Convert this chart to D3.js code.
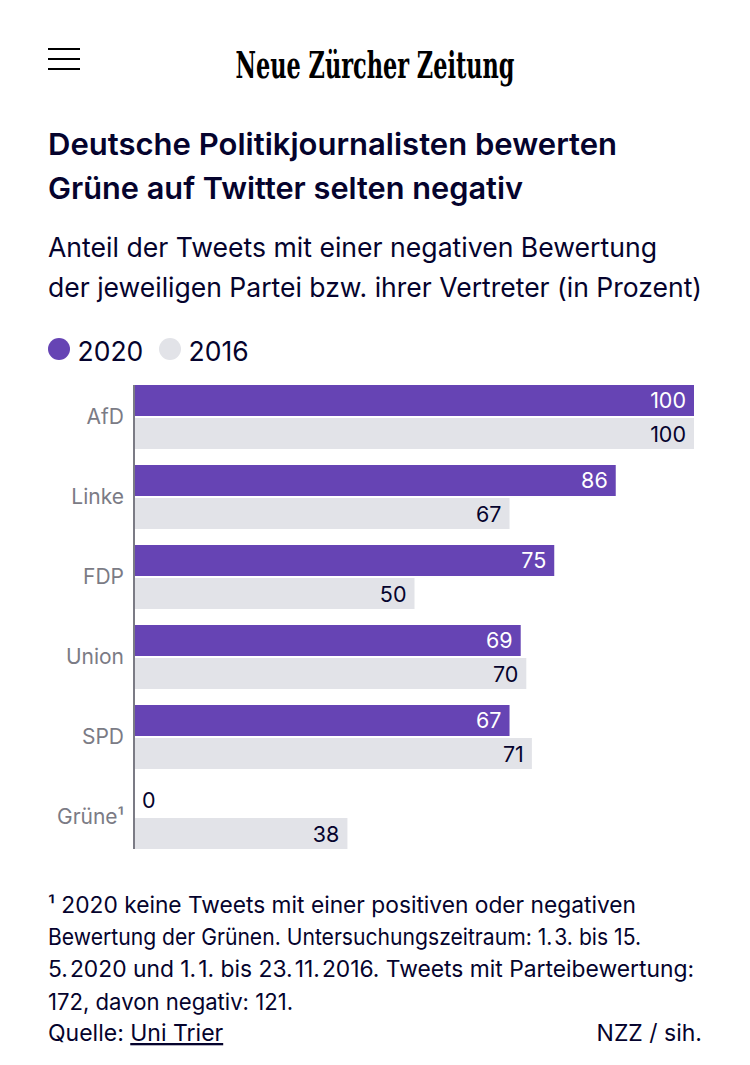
<!DOCTYPE html>
<html>
<head>
<meta charset="utf-8">
<script src="https://cdn.jsdelivr.net/npm/d3@7"></script>
<style>
	html, body { margin: 0; padding: 0; background: #fff; }
	text { font-family: "Inter", sans-serif; }
</style>
</head>
<body>
<svg id="chart" width="750" height="1065"></svg>
<script>
var parties = ["AfD", "Linke", "FDP", "Union", "SPD", "Grüne¹"];
var years = ["2020", "2016"];
var values2020 = [100, 86, 75, 69, 67, 0];
var values2016 = [100, 67, 50, 70, 71, 38];

var titleLines = ["Deutsche Politikjournalisten bewerten", "Grüne auf Twitter selten negativ"];
var subtitleLines = ["Anteil der Tweets mit einer negativen Bewertung", "der jeweiligen Partei bzw. ihrer Vertreter (in Prozent)"];
var noteLines = [
	"¹ 2020 keine Tweets mit einer positiven oder negativen",
	"Bewertung der Grünen. Untersuchungszeitraum: 1.\u200A3. bis 15.",
	"5.\u200A2020 und 1.\u200A1. bis 23.\u200A11.\u200A2016. Tweets mit Parteibewertung:",
	"172, davon negativ: 121."
];

// line widths measured on the reference, Inter runs a bit different
var titleWidths = [569, 475];
var subtitleWidths = [609, 654];
var noteWidths = [588, 593, 646, 245];

var purple = "#6644b4";
var grey = "#e2e3e8";
var ink = "#05032d";
var axisGrey = "#7b7b85";

var svg = d3.select("#chart");

// hamburger menu
[49, 59, 69].forEach(function(y) {
	svg.append("rect").attr("x", 48).attr("y", y - 1).attr("width", 32).attr("height", 2).attr("fill", "#000");
});

// masthead
svg.append("text")
	.attr("x", 375).attr("y", 78)
	.attr("text-anchor", "middle")
	.attr("textLength", 279).attr("lengthAdjust", "spacingAndGlyphs")
	.style("font-family", "'DejaVu Serif', serif")
	.style("font-weight", "700")
	.style("font-size", "37px")
	.attr("fill", "#000")
	.text("Neue Zürcher Zeitung");

function textBlock(cls, lines, widths, top, step, size, weight) {
	svg.selectAll("." + cls).data(lines).enter().append("text")
		.attr("class", cls)
		.attr("x", 48).attr("y", function(d, i) { return top + i * step; })
		.attr("textLength", function(d, i) { return widths[i]; })
		.attr("lengthAdjust", "spacingAndGlyphs")
		.style("font-size", size + "px").style("font-weight", weight)
		.attr("fill", ink)
		.text(function(d) { return d; });
}

// title + subtitle
textBlock("title", titleLines, titleWidths, 155, 44, 30.5, 600);
textBlock("subtitle", subtitleLines, subtitleWidths, 257, 40, 26.5, 400);

// legend
var legendX = [59, 170];
var legendColor = d3.scaleOrdinal().domain(years).range([purple, grey]);
years.forEach(function(year, i) {
	svg.append("circle").attr("cx", legendX[i]).attr("cy", 349).attr("r", 11).attr("fill", legendColor(year));
	svg.append("text").attr("x", legendX[i] + 18.5).attr("y", 361)
		.style("font-size", "26.5px").attr("fill", ink).text(year);
});

// bars
var x = d3.scaleLinear().domain([0, 100]).range([135, 694]);
var y = d3.scaleBand().domain(parties).range([385, 865]).paddingInner(0).paddingOuter(0);
var barHeight = 31;
var barOffset = [0, 33];
var labelOffset = [23, 24];

[values2020, values2016].forEach(function(values, s) {
	var g = svg.append("g");
	g.selectAll("rect").data(values).enter().append("rect")
		.attr("x", x(0))
		.attr("y", function(d, i) { return y(parties[i]) + barOffset[s]; })
		.attr("width", function(d) { return x(d) - x(0); })
		.attr("height", barHeight)
		.attr("fill", legendColor(years[s]));

	g.selectAll("text").data(values).enter().append("text")
		.attr("x", function(d) { return d == 0 ? x(0) + 7 : x(d) - 8; })
		.attr("y", function(d, i) { return y(parties[i]) + barOffset[s] + labelOffset[s]; })
		.attr("text-anchor", function(d) { return d == 0 ? "start" : "end"; })
		.style("font-size", "21.5px")
		.attr("fill", function(d) { return (s == 0 && d > 0) ? "#fff" : ink; })
		.text(function(d) { return d; });
});

// category axis
var axis = d3.axisLeft(y).tickSize(0).tickPadding(10);
var axisG = svg.append("g").attr("transform", "translate(134,-8)").call(axis);
axisG.select(".domain").remove();
axisG.selectAll("text")
	.style("font-family", "Inter, sans-serif")
	.style("font-size", "21px")
	.attr("fill", axisGrey)
	.attr("dy", "0.32em");
svg.append("line")
	.attr("x1", 134).attr("x2", 134).attr("y1", 385).attr("y2", 849)
	.attr("stroke", axisGrey).attr("stroke-width", 2);

// footnote
textBlock("note", noteLines, noteWidths, 913, 32.2, 22.5, 400);

svg.append("text").attr("x", 48).attr("y", 1041)
	.style("font-size", "23px").attr("fill", ink)
	.text("Quelle: ")
	.append("tspan").style("text-decoration", "underline").text("Uni Trier");

svg.append("text").attr("x", 702).attr("y", 1041).attr("text-anchor", "end")
	.style("font-size", "23px").attr("fill", ink)
	.text("NZZ / sih.");
</script>
</body>
</html>
